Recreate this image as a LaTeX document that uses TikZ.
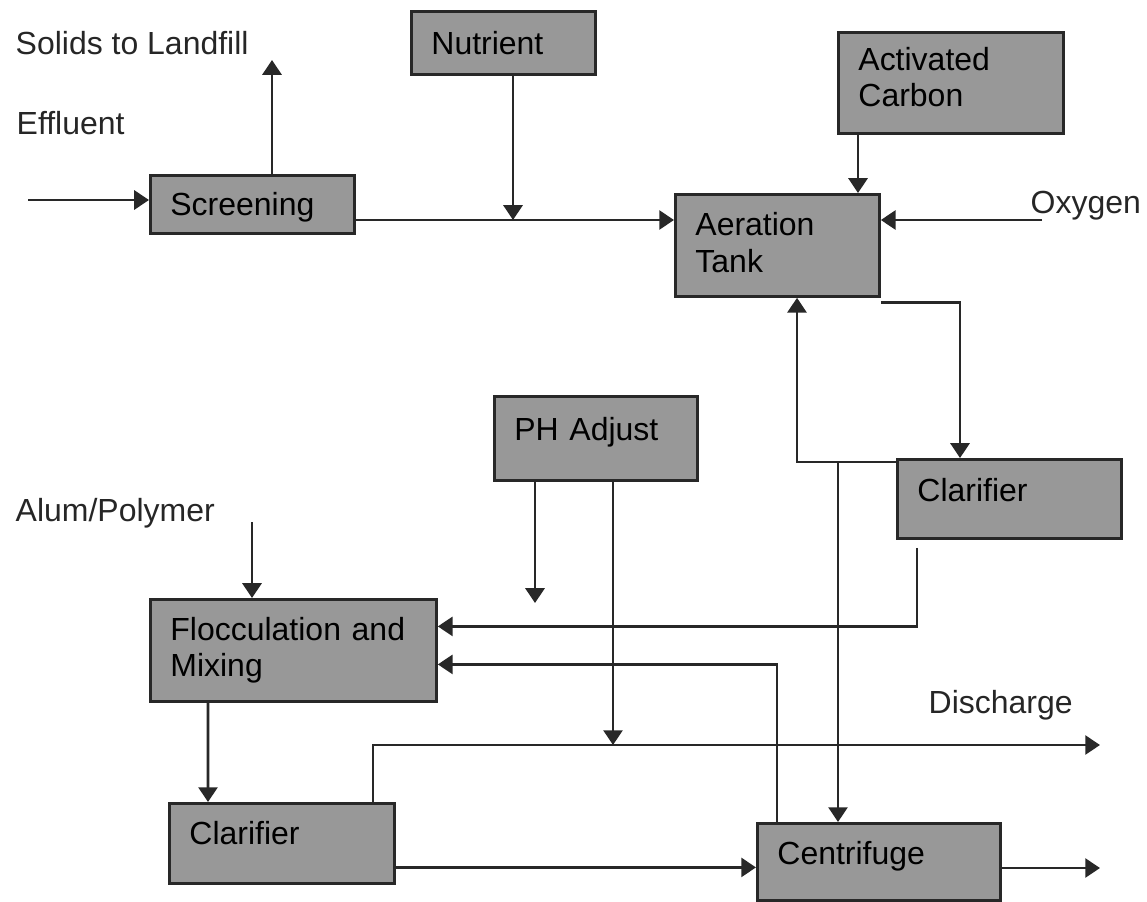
\documentclass[tikz,border=0pt]{standalone}
\usepackage{fontspec}
\setmainfont{Liberation Sans}
\usetikzlibrary{arrows,arrows.meta}
\definecolor{boxgray}{RGB}{152,152,152}
\definecolor{linegray}{RGB}{40,40,40}

\begin{document}
\begin{tikzpicture}[
font=\fontsize{9.1}{10.3}\selectfont,
box/.style={draw=linegray,fill=boxgray,line width=0.8pt,anchor=north west,align=left,inner xsep=0.2cm,inner ysep=0pt,text depth=0pt},
lbl/.style={anchor=base west,inner sep=0pt,text=black!85},
arrow/.style={-{Triangle[length=4.2pt,width=5.4pt]},line width=0.8pt,draw=linegray} ]

\useasboundingbox (0,0) rectangle (11.47,-9.01);

\node[box,text width=1.64cm,minimum height=0.58cm] (screen) at (1.49,-1.74) {Screening};

\node[box,text width=1.44cm,minimum height=0.63cm] (nutr) at (4.10,-0.10) {Nutrient};

\node[box,text width=1.85cm,minimum height=1.01cm,text depth=0.48cm] (carbon) at (8.37,-0.31) {Activated\\Carbon};

\node[box,text width=1.64cm,minimum height=1.02cm,text depth=0.42cm] (aer) at (6.74,-1.93) {Aeration\\Tank};

\node[box,text width=1.63cm,minimum height=0.84cm,text depth=0.2cm] (ph) at (4.93,-3.95) {PH Adjust};

\node[box,text width=1.84cm,minimum height=0.79cm,text depth=0.18cm] (clarA) at (8.96,-4.58) {Clarifier};

\node[box,text width=2.46cm,minimum height=1.02cm,text depth=0.44cm] (floc) at (1.49,-5.98) {Flocculation and\\Mixing};

\node[box,text width=1.85cm,minimum height=0.80cm,text depth=0.22cm] (clarB) at (1.68,-8.02) {Clarifier};

\node[box,text width=2.03cm,minimum height=0.77cm,text depth=0.18cm] (centr) at (7.56,-8.22) {Centrifuge};

\node[lbl] (solidstxt) at (0.15,-0.55) {Solids to Landfill};

\node[lbl] (effltxt) at (0.16,-1.34) {Effluent};

\node[lbl] (oxytxt) at (10.30,-2.13) {Oxygen};

\node[lbl] (alumtxt) at (0.15,-5.21) {Alum/Polymer};

\node[lbl] (dischtxt) at (9.28,-7.13) {Discharge};

\coordinate (effin) at (0.28,-2.00);

\coordinate (solids) at (2.72,-0.60);

\coordinate (join) at (5.13,-2.20);

\coordinate (oxy) at (10.42,-2.20);

\coordinate (split) at (8.38,-4.62);

\coordinate (alum) at (2.52,-5.22);

\coordinate (phend) at (5.35,-6.03);

\coordinate (phjoin) at (6.13,-7.45);

\coordinate (disch) at (11.00,-7.45);

\coordinate (cout) at (11.00,-8.68);

\draw[arrow] (effin) -- (screen.west |- effin);

\draw[arrow] (screen.north -| solids) -- (solids);

\draw[arrow] (screen.east |- join) -- (aer.west |- join);

\draw[arrow] (nutr.south -| join) -- (join);

\draw[arrow] ([xshift=0.21cm]carbon.south west) -- ([xshift=0.21cm]carbon.south west |- aer.north);

\draw[arrow] (oxy) -- (aer.east |- oxy);

\draw[arrow] ([yshift=-0.05cm]aer.south east) -| ([xshift=0.64cm]clarA.north west);

\draw[arrow] ([yshift=-0.04cm]clarA.north west) -| ([xshift=1.23cm]aer.south west);

\draw[arrow] (split) -- (split |- centr.north);

\draw[arrow] ([xshift=0.21cm,yshift=-0.08cm]clarA.south west) |- ([yshift=0.24cm]floc.east);

\draw[arrow] ([xshift=0.21cm]centr.north west) |- ([yshift=-0.14cm]floc.east);

\draw[arrow] (ph.south -| phend) -- (phend);

\draw[arrow] (ph.south -| phjoin) -- (phjoin);

\draw[arrow] (alum) -- (floc.north -| alum);

\draw[arrow] ([xshift=0.59cm]floc.south west) -- ([xshift=0.40cm]clarB.north west);

\draw[arrow] ([xshift=2.05cm]clarB.north west) |- (disch);

\draw[arrow] ([yshift=-0.24cm]clarB.east) -- ([yshift=-0.24cm]clarB.east -| centr.west);

\draw[arrow] (centr.east |- cout) -- (cout);

\end{tikzpicture}
\end{document}
